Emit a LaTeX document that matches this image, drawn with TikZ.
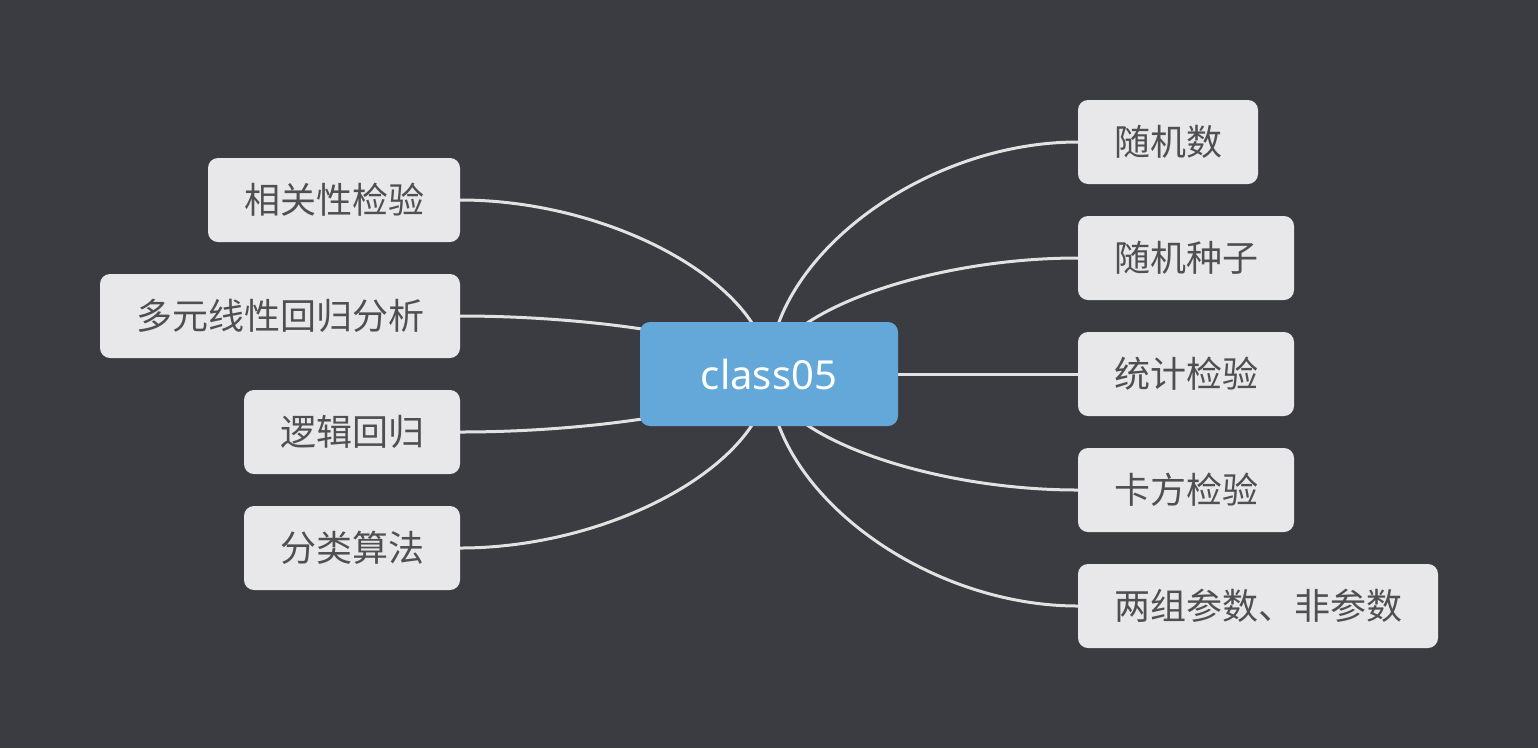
\documentclass[tikz,border=0pt]{standalone}
\usepackage{fontspec}
\setmainfont{Noto Sans}
\newfontfamily\cjk{Noto Sans CJK SC}
\usetikzlibrary{calc}
\definecolor{bgc}{HTML}{3B3C42}
\definecolor{boxc}{HTML}{E8E8EA}
\definecolor{txtc}{HTML}{4F4F4F}
\definecolor{bluec}{HTML}{63A8D8}
\definecolor{linec}{HTML}{E2E2E2}
\pgfdeclarelayer{bg}
\pgfdeclarelayer{lines}
\pgfsetlayers{bg,lines,main}
\tikzset{
  topic/.style={fill=boxc, rounded corners=10pt, minimum height=84pt, inner sep=0pt,
    text=txtc, font=\cjk\fontsize{36pt}{40pt}\selectfont},
  central/.style={fill=bluec, rounded corners=10pt, minimum width=258pt, minimum height=104pt,
    inner sep=0pt, text=white, font=\fontsize{40pt}{44pt}\selectfont},
  branch/.style={draw=linec, line width=3pt}
}
\begin{document}
\begin{tikzpicture}[x=1pt,y=-1pt]
\begin{pgfonlayer}{bg}
\fill[bgc] (0,0) rectangle (1538,748);
\end{pgfonlayer}
\useasboundingbox (0,0) rectangle (1538,748);

\node[central] (c) at (769,374) {class05};

\node[topic, minimum width=180pt] (r1) at (1168,142) {随机数};
\node[topic, minimum width=216pt] (r2) at (1186,258) {随机种子};
\node[topic, minimum width=216pt] (r3) at (1186,374) {统计检验};
\node[topic, minimum width=216pt] (r4) at (1186,490) {卡方检验};
\node[topic, minimum width=360pt] (r5) at (1258,606) {两组参数、非参数};

\node[topic, minimum width=252pt] (l1) at (334,200) {相关性检验};
\node[topic, minimum width=360pt] (l2) at (280,316) {多元线性回归分析};
\node[topic, minimum width=216pt] (l3) at (352,432) {逻辑回归};
\node[topic, minimum width=216pt] (l4) at (352,548) {分类算法};

\begin{pgfonlayer}{lines}
\foreach \n/\a in {r1/west,r2/west,r3/west,r4/west,r5/west,l1/east,l2/east,l3/east,l4/east}{
  \coordinate (m) at ($(c.center)!0.5!(\n.\a)$);
  \draw[branch] (c.center) .. controls (c.center |- m) and (m |- \n.\a) .. (\n.\a);
}
\end{pgfonlayer}
\end{tikzpicture}
\end{document}
